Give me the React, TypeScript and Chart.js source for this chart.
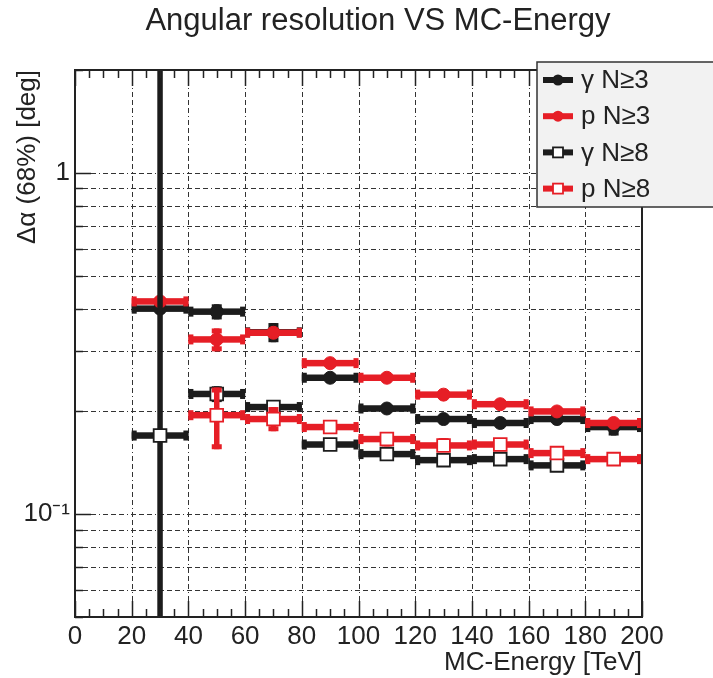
import React, { useEffect, useRef } from "react";
import { Chart, registerables } from "chart.js";

Chart.register(...registerables);

// ---------------- data ----------------
const titleText = "Angular resolution VS MC-Energy";
const xTitle = "MC-Energy [TeV]";
const yTitle = "Δα (68%) [deg]";

const binCenters = [30, 50, 70, 90, 110, 130, 150, 170, 190];
const binHalfWidth = 10;

const seriesLabels = ["γ N≥3", "p N≥3", "γ N≥8", "p N≥8"];

const gamma3 = [0.4, 0.392, 0.341, 0.251, 0.204, 0.19, 0.185, 0.19, 0.18];
const gamma3ErrLo = [0, 0.02, 0.022, 0.005, 0.004, 0.003, 0.003, 0.003, 0.01];
const gamma3ErrHi = [0, 0.02, 0.022, 0.005, 0.004, 0.003, 0.003, 0.003, 0.005];

const proton3 = [0.42, 0.325, 0.34, 0.277, 0.251, 0.224, 0.21, 0.2, 0.185];
const proton3ErrLo = [0.004, 0.025, 0.008, 0.005, 0.004, 0.003, 0.003, 0.003, 0.004];
const proton3ErrHi = [0.004, 0.025, 0.008, 0.005, 0.004, 0.003, 0.003, 0.003, 0.004];

const gamma8 = [0.17, 0.225, 0.206, 0.16, 0.15, 0.144, 0.145, 0.139, null];
const gamma8ErrLo = [0.135, 0.012, 0.008, 0.003, 0.003, 0.003, 0.003, 0.003, 0];
const gamma8ErrHi = [3, 0.012, 0.008, 0.003, 0.003, 0.003, 0.003, 0.003, 0];

const proton8 = [null, 0.195, 0.19, 0.18, 0.166, 0.159, 0.16, 0.151, 0.145];
const proton8ErrLo = [0, 0.04, 0.015, 0.004, 0.008, 0.006, 0.004, 0.004, 0.003];
const proton8ErrHi = [0, 0.04, 0.016, 0.004, 0.006, 0.008, 0.004, 0.004, 0.003];

const xMin = 0;
const xMax = 200;
const xMajorStep = 20;
const xMinorStep = 5;

const yMin = 0.05;
const yMax = 2;
const yTickValues = [0.05, 0.06, 0.07, 0.08, 0.09, 0.1, 0.2, 0.3, 0.4, 0.5, 0.6, 0.7, 0.8, 0.9, 1, 2];
const yLabelValues = [0.1, 1];
const yLabelTexts = ["10⁻¹", "1"];

// ---------------- styles ----------------
const FONT = '"Liberation Sans", Arial, Helvetica, sans-serif';
const BLACK = "#1c1c1c";
const RED = "#e61e26";
const TEXT = "#222222";

const isClose = (a: number, b: number) => Math.abs(a - b) < 1e-9 * Math.max(1, Math.abs(b));

const errorBarPlugin = {
  id: "errorBars",
  beforeDatasetDraw(chart: any, args: any) {
    const ds = chart.data.datasets[args.index];
    if (!ds || !ds.values) return;
    const { ctx, chartArea: a } = chart;
    const xs = chart.scales.x;
    const ys = chart.scales.y;
    const barT = 6.5;
    const vW = 5.5;
    const capL = 10;
    const capT = 5;
    ctx.save();
    ctx.beginPath();
    ctx.rect(a.left, a.top, a.right - a.left, a.bottom - a.top);
    ctx.clip();
    ctx.fillStyle = ds.errColor;
    binCenters.forEach((x: number, i: number) => {
      const v = ds.values[i];
      if (v == null) return;
      const xl = xs.getPixelForValue(x - binHalfWidth);
      const xr = xs.getPixelForValue(x + binHalfWidth);
      const xc = xs.getPixelForValue(x);
      const yc = ys.getPixelForValue(v);
      // horizontal bin bar
      ctx.fillRect(xl, yc - barT / 2, xr - xl, barT);
      // end caps
      ctx.fillRect(xl, yc - capL / 2, capT, capL);
      ctx.fillRect(xr - capT, yc - capL / 2, capT, capL);
      // vertical error
      const lo = ds.errLo[i] || 0;
      const hi = ds.errHi[i] || 0;
      if (lo > 0 || hi > 0) {
        const yTop = ys.getPixelForValue(v + hi);
        const yBot = ys.getPixelForValue(Math.max(v - lo, 1e-6));
        ctx.fillRect(xc - vW / 2, yTop, vW, yBot - yTop);
        ctx.fillRect(xc - capL / 2, yTop, capL, capT);
        ctx.fillRect(xc - capL / 2, yBot - capT, capL, capT);
      }
    });
    ctx.restore();
  },
};

const framePlugin = {
  id: "frameGrid",
  beforeDatasetsDraw(chart: any) {
    const { ctx, chartArea: a } = chart;
    const xs = chart.scales.x;
    const ys = chart.scales.y;
    ctx.save();
    ctx.strokeStyle = "#333333";
    ctx.lineWidth = 1;
    ctx.setLineDash([5, 3, 5, 3, 5, 3, 1, 3]);
    ctx.beginPath();
    for (let v = xMin + xMajorStep; v < xMax; v += xMajorStep) {
      const px = Math.round(xs.getPixelForValue(v)) + 0.5;
      ctx.moveTo(px, a.bottom);
      ctx.lineTo(px, a.top);
    }
    for (const v of yTickValues) {
      if (isClose(v, yMin) || isClose(v, yMax)) continue;
      const py = Math.round(ys.getPixelForValue(v)) + 0.5;
      ctx.moveTo(a.left, py);
      ctx.lineTo(a.right, py);
    }
    ctx.stroke();
    ctx.restore();
  },
  afterDatasetsDraw(chart: any) {
    const { ctx, chartArea: a } = chart;
    const xs = chart.scales.x;
    const ys = chart.scales.y;
    ctx.save();
    ctx.strokeStyle = TEXT;
    ctx.lineWidth = 1.5;
    ctx.beginPath();
    for (let v = xMin; v <= xMax + 1e-9; v += xMinorStep) {
      const px = Math.round(xs.getPixelForValue(v)) + 0.5;
      const len = Math.abs(v % xMajorStep) < 1e-9 ? 16 : 8;
      ctx.moveTo(px, a.bottom);
      ctx.lineTo(px, a.bottom - len);
      ctx.moveTo(px, a.top);
      ctx.lineTo(px, a.top + len);
    }
    for (const v of yTickValues) {
      const py = Math.round(ys.getPixelForValue(v)) + 0.5;
      const len = yLabelValues.some((l) => isClose(l, v)) ? 16 : 8;
      ctx.moveTo(a.left, py);
      ctx.lineTo(a.left + len, py);
    }
    ctx.stroke();
    ctx.lineWidth = 2;
    ctx.strokeRect(a.left, a.top, a.right - a.left, a.bottom - a.top);
    ctx.restore();
  },
  afterDraw(chart: any) {
    const { ctx } = chart;
    ctx.save();
    // title
    ctx.fillStyle = TEXT;
    ctx.font = `31px ${FONT}`;
    ctx.textAlign = "center";
    ctx.textBaseline = "alphabetic";
    ctx.fillText(titleText, 378, 30);

    // legend box
    const bx = 537, by = 62, bw = 190, bh = 145;
    ctx.fillStyle = "#f2f2f2";
    ctx.fillRect(bx, by, bw, bh);
    ctx.strokeStyle = "#333333";
    ctx.lineWidth = 1.5;
    ctx.strokeRect(bx, by, bw, bh);

    chart.data.datasets.forEach((ds: any, i: number) => {
      const rowY = 80 + i * 36.2;
      ctx.fillStyle = ds.errColor;
      ctx.fillRect(543, rowY - 3, 30, 6);
      const mx = 558;
      if (ds.open) {
        ctx.fillStyle = "#ffffff";
        ctx.fillRect(mx - 5, rowY - 5, 10, 10);
        ctx.strokeStyle = ds.errColor;
        ctx.lineWidth = 1.8;
        ctx.strokeRect(mx - 5, rowY - 5, 10, 10);
      } else {
        ctx.beginPath();
        ctx.arc(mx, rowY, 5.5, 0, Math.PI * 2);
        ctx.fill();
      }
      ctx.fillStyle = TEXT;
      ctx.font = `26px ${FONT}`;
      ctx.textAlign = "left";
      ctx.textBaseline = "middle";
      ctx.fillText(ds.label, 581, rowY + 1);
    });
    ctx.restore();
  },
};

function makeDataset(
  label: string,
  values: (number | null)[],
  errLo: number[],
  errHi: number[],
  color: string,
  open: boolean,
  order: number
) {
  return {
    label,
    data: binCenters
      .map((x, i) => (values[i] == null ? null : { x, y: values[i] as number }))
      .filter((p) => p !== null),
    values,
    errLo,
    errHi,
    errColor: color,
    open,
    order,
    showLine: false,
    pointStyle: open ? "rect" : "circle",
    pointRadius: open ? 9 : 6.5,
    pointHoverRadius: open ? 9 : 6.5,
    backgroundColor: open ? "#ffffff" : color,
    borderColor: color,
    borderWidth: open ? 1.8 : 1,
  };
}

export default function App() {
  const canvasRef = useRef<HTMLCanvasElement | null>(null);

  useEffect(() => {
    const canvas = canvasRef.current;
    if (!canvas) return;
    const chart = new Chart(canvas, {
      type: "scatter",
      data: {
        datasets: [
          makeDataset(seriesLabels[0], gamma3, gamma3ErrLo, gamma3ErrHi, BLACK, false, 4),
          makeDataset(seriesLabels[1], proton3, proton3ErrLo, proton3ErrHi, RED, false, 3),
          makeDataset(seriesLabels[2], gamma8, gamma8ErrLo, gamma8ErrHi, BLACK, true, 2),
          makeDataset(seriesLabels[3], proton8, proton8ErrLo, proton8ErrHi, RED, true, 1),
        ] as any,
      },
      options: {
        animation: false,
        responsive: false,
        devicePixelRatio: 1,
        layout: { padding: { left: 0, right: 71, top: 70, bottom: 0 } },
        plugins: {
          legend: { display: false },
          title: { display: false },
          tooltip: { enabled: false },
        },
        scales: {
          x: {
            type: "linear",
            min: xMin,
            max: xMax,
            afterFit: (scale: any) => {
              scale.height = 61;
            },
            ticks: {
              stepSize: xMajorStep,
              autoSkip: false,
              maxRotation: 0,
              padding: 4,
              color: TEXT,
              font: { family: FONT, size: 26 },
            },
            grid: { display: false, drawTicks: false },
            border: { display: false },
            title: {
              display: true,
              text: xTitle,
              align: "end",
              color: TEXT,
              font: { family: FONT, size: 26 },
              padding: { top: 0, bottom: 0 },
            },
          },
          y: {
            type: "logarithmic",
            min: yMin,
            max: yMax,
            afterFit: (scale: any) => {
              scale.width = 75;
            },
            afterBuildTicks: (scale: any) => {
              scale.ticks = yTickValues.map((v) => ({ value: v }));
            },
            ticks: {
              autoSkip: false,
              padding: 5,
              color: TEXT,
              font: { family: FONT, size: 26 },
              callback: (value: any) => {
                const idx = yLabelValues.findIndex((l) => isClose(l, Number(value)));
                return idx >= 0 ? yLabelTexts[idx] : "";
              },
            },
            grid: { display: false, drawTicks: false },
            border: { display: false },
            title: {
              display: true,
              text: yTitle,
              align: "end",
              color: TEXT,
              font: { family: FONT, size: 26 },
              padding: { top: 12, bottom: 0 },
            },
          },
        },
      },
      plugins: [errorBarPlugin, framePlugin],
    } as any);
    return () => chart.destroy();
  }, []);

  return (
    <div style={{ position: "fixed", left: 0, top: 0, width: 713, height: 678, background: "#ffffff" }}>
      <canvas ref={canvasRef} width={713} height={678} style={{ width: 713, height: 678, display: "block" }} />
    </div>
  );
}
